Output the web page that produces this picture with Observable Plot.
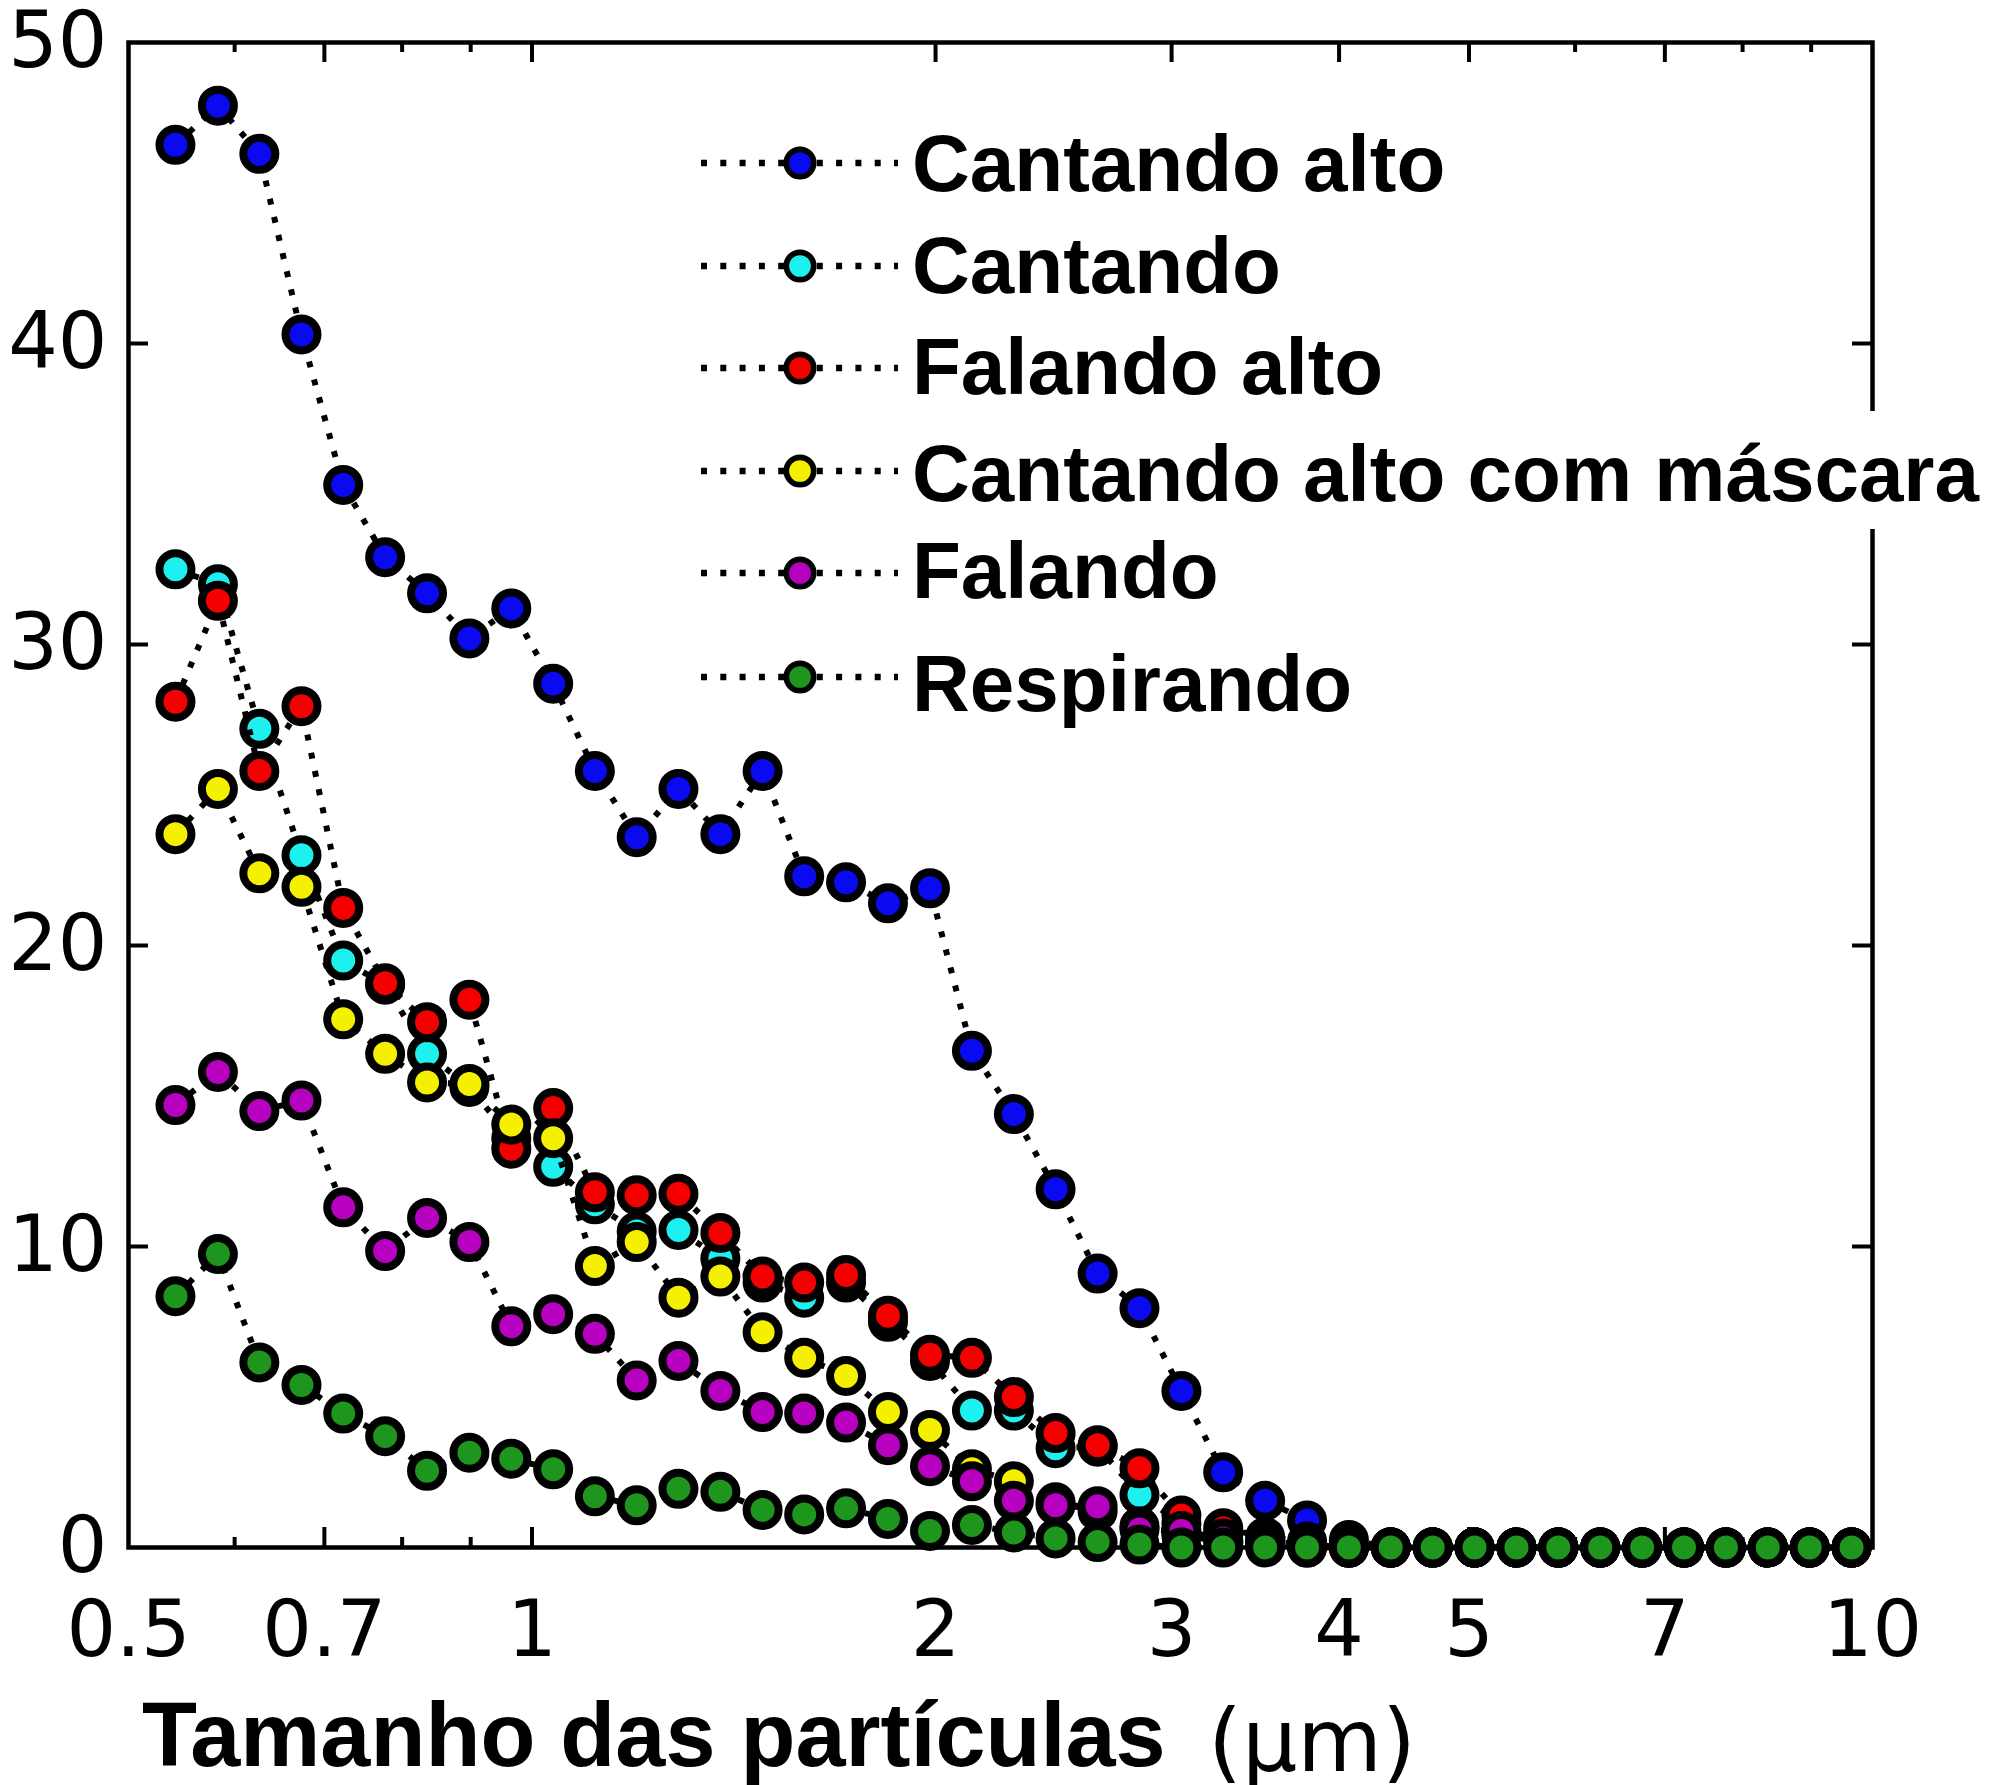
<!DOCTYPE html>
<html>
<head>
<meta charset="utf-8">
<script src="https://cdn.jsdelivr.net/npm/d3@7"></script>
<script src="https://cdn.jsdelivr.net/npm/@observablehq/plot@0.6"></script>
<style>
  html, body { margin: 0; padding: 0; background: #fff; }
  svg { display: block; }
</style>
</head>
<body>
<div id="chart"></div>
<script>
// Particle size bins (µm)
const sizes = [0.542, 0.583, 0.626, 0.673, 0.723, 0.777, 0.835, 0.898, 0.965, 1.037,
               1.114, 1.197, 1.286, 1.382, 1.486, 1.596, 1.715, 1.843, 1.981, 2.129,
               2.288, 2.458, 2.642, 2.839, 3.051, 3.278, 3.523, 3.786, 4.068, 4.371,
               4.698, 5.048, 5.425, 5.829, 6.264, 6.732, 7.234, 7.774, 8.354, 8.977, 9.647];

const cantandoAlto = [46.6, 47.9, 46.3, 40.3, 35.3, 32.9, 31.7, 30.2, 31.2, 28.7,
                      25.8, 23.6, 25.2, 23.7, 25.8, 22.3, 22.1, 21.4, 21.9, 16.5,
                      14.4, 11.9, 9.1, 7.95, 5.2, 2.5, 1.55, 0.9, 0.25, 0,
                      0, 0, 0, 0, 0, 0, 0, 0, 0, 0, 0];
const cantando = [32.5, 32.0, 27.2, 23.0, 19.5, 18.7, 16.4, 15.3, 13.6, 12.65,
                  11.4, 10.5, 10.55, 9.6, 8.8, 8.3, 8.8, 7.5, 6.2, 4.55,
                  4.55, 3.3, 3.35, 1.75, 0.8, 0.45, 0.2, 0.1, 0, 0,
                  0, 0, 0, 0, 0, 0, 0, 0, 0, 0, 0];
const falandoAlto = [28.1, 31.45, 25.8, 27.95, 21.25, 18.75, 17.45, 18.2, 13.25, 14.6,
                     11.8, 11.7, 11.75, 10.45, 9.0, 8.8, 9.05, 7.7, 6.4, 6.3,
                     5.0, 3.8, 3.4, 2.63, 1.06, 0.64, 0.35, 0.2, 0, 0,
                     0, 0, 0, 0, 0, 0, 0, 0, 0, 0, 0];
const cantandoMascara = [23.7, 25.2, 22.4, 21.95, 17.55, 16.4, 15.45, 15.4, 14.05, 13.6,
                         9.35, 10.15, 8.3, 9.0, 7.15, 6.3, 5.7, 4.5, 3.9, 2.6,
                         2.2, 1.5, 1.2, 0.7, 0.4, 0.2, 0.1, 0, 0, 0,
                         0, 0, 0, 0, 0, 0, 0, 0, 0, 0, 0];
const falando = [14.7, 15.8, 14.5, 14.85, 11.3, 9.85, 10.95, 10.15, 7.35, 7.75,
                 7.1, 5.55, 6.2, 5.2, 4.5, 4.45, 4.15, 3.4, 2.7, 2.2,
                 1.55, 1.4, 1.37, 0.6, 0.55, 0.3, 0.15, 0.1, 0, 0,
                 0, 0, 0, 0, 0, 0, 0, 0, 0, 0, 0];
const respirando = [8.35, 9.75, 6.15, 5.4, 4.45, 3.7, 2.55, 3.15, 2.95, 2.6,
                    1.7, 1.4, 1.95, 1.85, 1.25, 1.1, 1.3, 0.95, 0.55, 0.75,
                    0.5, 0.3, 0.18, 0.1, 0, 0, 0, 0, 0, 0,
                    0, 0, 0, 0, 0, 0, 0, 0, 0, 0, 0];

const seriesNames = ["Cantando alto", "Cantando", "Falando alto",
                     "Cantando alto com máscara", "Falando", "Respirando"];
const seriesColors = ["#0a0af0", "#1ef0f0", "#f50000", "#f5f000", "#b800c0", "#1e961e"];
const seriesValues = [cantandoAlto, cantando, falandoAlto, cantandoMascara, falando, respirando];

const xTickLabels = [0.5, 0.7, 1, 2, 3, 4, 5, 7, 10];
const xMajorTicks = [0.7, 1, 2, 3, 4, 5, 7];
const xMinorTicks = [0.6, 0.8, 0.9, 6, 8, 9];
const yTickLabels = [0, 10, 20, 30, 40, 50];
const yInnerTicks = [10, 20, 30, 40];
const xTitle = "Tamanho das partículas";
const xUnit = "(µm)";

// layout
const W = 1995, H = 1785;
const mL = 128, mR = 123, mT = 42, mB = 238;
const innerW = W - mL - mR, innerH = H - mT - mB;
const major = 20, minor = 10;

const rows = seriesNames.flatMap((name, k) =>
  sizes.map((s, i) => ({size: s, value: seriesValues[k][i], series: name, k})));

const seriesMarks = seriesNames.flatMap((name, k) => {
  const d = rows.filter(r => r.k === k);
  return [
    Plot.line(d, {x: "size", y: "value", stroke: "black", strokeWidth: 6,
                  strokeDasharray: "6 12.6", strokeLinecap: "butt"}),
    Plot.dot(d, {x: "size", y: "value", r: 16, fill: "series", stroke: "black", strokeWidth: 8})
  ];
});

const plot = Plot.plot({
  width: W, height: H,
  marginLeft: mL, marginRight: mR, marginTop: mT, marginBottom: mB,
  style: {fontFamily: "'DejaVu Sans', sans-serif", background: "white", color: "black", overflow: "visible"},
  x: {type: "log", domain: [0.5, 10], label: null},
  y: {domain: [0, 50], label: null},
  color: {domain: seriesNames, range: seriesColors},
  marks: [
    Plot.frame({stroke: "black", strokeWidth: 4.5}),
    Plot.tickX(xMajorTicks, {x: d => d, stroke: "black", strokeWidth: 4, insetTop: innerH - major}),
    Plot.tickX(xMajorTicks, {x: d => d, stroke: "black", strokeWidth: 4, insetBottom: innerH - major}),
    Plot.tickX(xMinorTicks, {x: d => d, stroke: "black", strokeWidth: 4, insetTop: innerH - minor}),
    Plot.tickX(xMinorTicks, {x: d => d, stroke: "black", strokeWidth: 4, insetBottom: innerH - minor}),
    Plot.tickY(yInnerTicks, {y: d => d, stroke: "black", strokeWidth: 4, insetRight: innerW - major}),
    Plot.tickY(yInnerTicks, {y: d => d, stroke: "black", strokeWidth: 4, insetLeft: innerW - major}),
    Plot.axisX(xTickLabels, {anchor: "bottom", tickSize: 0, tickPadding: 53, fontSize: 78,
                             label: null, tickFormat: d => String(d)}),
    Plot.axisY(yTickLabels, {anchor: "left", tickSize: 0, tickPadding: 21, fontSize: 78,
                             label: null, tickFormat: d => String(d)}),
    ...seriesMarks
  ]
});

document.getElementById("chart").appendChild(plot);

// Legend and axis title
const svg = d3.select(plot);
const legend = svg.append("g").attr("class", "legend").attr("text-anchor", "start");
const legMarkerY = [163, 266, 368, 471, 573, 677];
const legBaseY = [191, 293, 394, 501, 598, 711];
const legX0 = 701, legX1 = 898, legMarkX = 800, legTextX = 912;

// white background behind the long legend entry (interrupts the frame)
legend.append("rect")
  .attr("x", 905).attr("y", 411).attr("width", 1085).attr("height", 118)
  .attr("fill", "white");

seriesNames.forEach((name, k) => {
  legend.append("line")
    .attr("x1", legX0).attr("x2", legX1)
    .attr("y1", legMarkerY[k]).attr("y2", legMarkerY[k])
    .attr("stroke", "black").attr("stroke-width", 6.5)
    .attr("stroke-dasharray", "6 13.3");
  legend.append("circle")
    .attr("cx", legMarkX).attr("cy", legMarkerY[k]).attr("r", 13.7)
    .attr("fill", seriesColors[k]).attr("stroke", "black").attr("stroke-width", 5.7);
  legend.append("text")
    .attr("x", legTextX).attr("y", legBaseY[k])
    .attr("text-anchor", "start")
    .attr("font-family", "'Liberation Sans', Arial, Helvetica, sans-serif")
    .attr("font-weight", "bold").attr("font-size", 80)
    .attr("fill", "black")
    .text(name);
});

const title = svg.append("g").attr("text-anchor", "start");
title.append("text")
  .attr("x", 142).attr("y", 1766)
  .attr("text-anchor", "start")
  .attr("font-family", "'Liberation Sans', Arial, Helvetica, sans-serif")
  .attr("font-weight", "bold").attr("font-size", 90)
  .attr("fill", "black")
  .text(xTitle);
title.append("text")
  .attr("x", 1208).attr("y", 1771)
  .attr("text-anchor", "start")
  .attr("font-family", "'DejaVu Sans', sans-serif")
  .attr("font-size", 87)
  .attr("fill", "black")
  .text(xUnit);
</script>
</body>
</html>
